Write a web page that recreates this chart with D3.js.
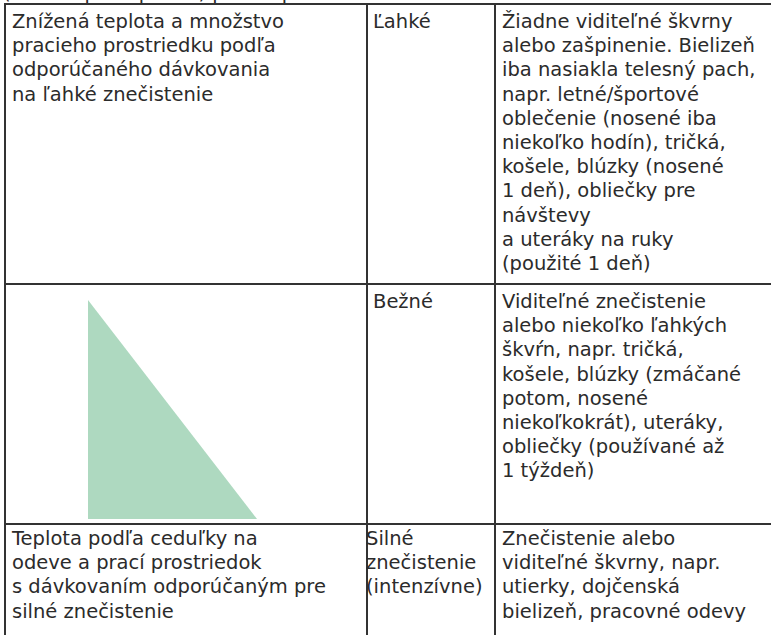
<!DOCTYPE html>
<html>
<head>
<meta charset="utf-8">
<script src="https://cdn.jsdelivr.net/npm/d3@7"></script>
<style>
  html, body { margin: 0; padding: 0; background: #fff; }
  svg { display: block; }
</style>
</head>
<body>
<svg id="chart" width="771" height="635"></svg>
<script>
// ---- data ----
const headerText = "(úroveň pri zápachu) pre tie prádlá";
const dosage = [
  ["Znížená teplota a množstvo", "pracieho prostriedku podľa", "odporúčaného dávkovania", "na ľahké znečistenie"],
  [],
  ["Teplota podľa ceduľky na", "odeve a prací prostriedok", "s dávkovaním odporúčaným pre", "silné znečistenie"]
];
const levels = [
  ["Ľahké"],
  ["Bežné"],
  ["Silné", "znečistenie", "(intenzívne)"]
];
const descriptions = [
  ["Žiadne viditeľné škvrny", "alebo zašpinenie. Bielizeň", "iba nasiakla telesný pach,", "napr. letné/športové",
   "oblečenie (nosené iba", "niekoľko hodín), tričká,", "košele, blúzky (nosené", "1 deň), obliečky pre",
   "návštevy", "a uteráky na ruky", "(použité 1 deň)"],
  ["Viditeľné znečistenie", "alebo niekoľko ľahkých", "škvŕn, napr. tričká,", "košele, blúzky (zmáčané",
   "potom, nosené", "niekoľkokrát), uteráky,", "obliečky (používané až", "1 týždeň)"],
  ["Znečistenie alebo", "viditeľné škvrny, napr.", "utierky, dojčenská", "bielizeň, pracovné odevy"]
];
// decreasing wedge (amount of temperature/detergent reduction)
const wedge = [[0, 0], [0, 1], [1, 1]];

// ---- layout ----
const W = 771, H = 635;
const colEdges = [5, 367, 495, W];
const rowEdges = [4, 284, 524, H];
const textPad = [7, 6, 7];
const firstBaseline = [28, 308, 545];
const lineH = 24.2;
const lineColor = "#333";
const textColor = "#2b2b2b";
const font = "'DejaVu Sans', sans-serif";
const fontSize = 19.5;

const svg = d3.select("#chart");

// row & column scales (index -> edge)
const xCol = d3.scaleOrdinal().domain([0, 1, 2, 3]).range(colEdges);
const yRow = d3.scaleOrdinal().domain([0, 1, 2, 3]).range(rowEdges);

// clipped header line from previous page region
svg.append("text")
  .attr("x", 3).attr("y", -1)
  .attr("font-family", font).attr("font-size", fontSize)
  .attr("fill", textColor)
  .text(headerText);

// wedge in row 1, column 0
const xW = d3.scaleLinear().domain([0, 1]).range([88, 257]);
const yW = d3.scaleLinear().domain([0, 1]).range([300, 519]);
svg.append("path")
  .attr("d", d3.line().x(d => xW(d[0])).y(d => yW(d[1]))(wedge) + "Z")
  .attr("fill", "#aed9c0");

// grid lines
const g = svg.append("g").attr("stroke", lineColor).attr("stroke-width", 2);
[0, 1, 2].forEach(r => {
  g.append("line").attr("x1", xCol(0)).attr("x2", W)
    .attr("y1", yRow(r)).attr("y2", yRow(r));
});
[0, 1, 2].forEach(c => {
  g.append("line").attr("x1", xCol(c)).attr("x2", xCol(c))
    .attr("y1", yRow(0) - 1).attr("y2", H);
});

// text cells
const columns = [dosage, levels, descriptions];
columns.forEach((col, c) => {
  col.forEach((lines, r) => {
    let x = xCol(c) + textPad[c];
    if (c === 1 && r === 2) x = xCol(c) - 1;
    const t = svg.append("text")
      .attr("font-family", font).attr("font-size", fontSize)
      .attr("fill", textColor);
    t.selectAll("tspan").data(lines).join("tspan")
      .attr("x", x)
      .attr("y", (d, i) => firstBaseline[r] + i * lineH)
      .text(d => d);
  });
});
</script>
</body>
</html>
